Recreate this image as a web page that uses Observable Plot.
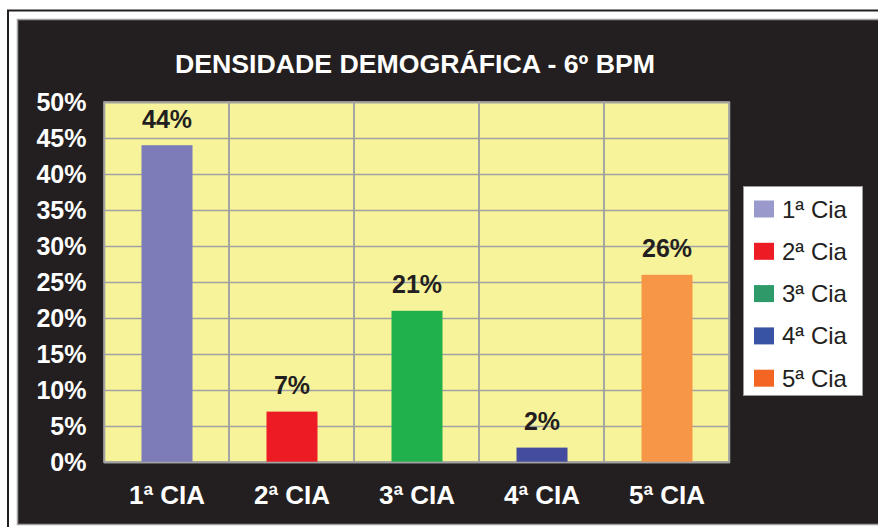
<!DOCTYPE html>
<html>
<head>
<meta charset="utf-8">
<script src="https://cdn.jsdelivr.net/npm/d3@7"></script>
<script src="https://cdn.jsdelivr.net/npm/@observablehq/plot@0.6"></script>
<style>
  html, body { margin: 0; padding: 0; background: #ffffff; }
  #chart svg { display: block; }
</style>
</head>
<body>
<div id="chart"></div>
<script>
const title = "DENSIDADE DEMOGRÁFICA - 6º BPM";
const categories = ["1ª CIA", "2ª CIA", "3ª CIA", "4ª CIA", "5ª CIA"];
const values = [0.44, 0.07, 0.21, 0.02, 0.26];
const barColors = ["#7e7bb9", "#ed1c24", "#21b14c", "#444c9f", "#f79646"];
const legendLabels = ["1ª Cia", "2ª Cia", "3ª Cia", "4ª Cia", "5ª Cia"];
const legendColors = ["#9999cc", "#ed1c24", "#2e9a6a", "#3953a4", "#f26522"];
const yTicks = [0, 0.05, 0.10, 0.15, 0.20, 0.25, 0.30, 0.35, 0.40, 0.45, 0.50];

const data = categories.map((c, i) => ({cat: c, value: values[i], color: barColors[i]}));
const fmt = d3.format(".0%");
const font = "'Liberation Sans', Arial, sans-serif";

const chart = Plot.plot({
  width: 878,
  height: 527,
  marginLeft: 104,
  marginRight: 149,
  marginTop: 102,
  marginBottom: 65,
  style: {fontFamily: font, background: "transparent", overflow: "visible"},
  x: {domain: categories, padding: 0, label: null},
  y: {domain: [0, 0.5], label: null},
  marks: [
    Plot.frame({fill: "#f7f39b", stroke: "none"}),
    Plot.ruleY(yTicks, {stroke: "#a2a2a2", strokeWidth: 1.6}),
    Plot.barY(categories, {x: d => d, y1: 0, y2: 0.5, fill: "none", stroke: "#a2a2a2", strokeWidth: 1.6}),
    Plot.barY(data, {x: "cat", y: "value", fill: "color", insetLeft: 37.5, insetRight: 36.5}),
    Plot.frame({stroke: "#a2a2a2", strokeWidth: 1.6}),
    Plot.text(data, {x: "cat", y: "value", text: d => fmt(d.value), dy: -18, lineAnchor: "bottom",
      fontSize: 25, fontWeight: "bold", fill: "#231f20"}),
    Plot.axisY(yTicks, {tickSize: 0, tickPadding: 18, tickFormat: fmt, fontSize: 25, fontWeight: "bold",
      fill: "#ffffff", label: null}),
    Plot.axisX({tickSize: 0, tickPadding: 23, fontSize: 26, fontWeight: "bold", fill: "#ffffff", label: null})
  ]
});

const svg = d3.select(chart);
// Background decorations inserted behind the plot
const bg = svg.insert("g", ":first-child");
bg.append("rect").attr("x", 8).attr("y", 10.5).attr("width", 900).attr("height", 540)
  .attr("fill", "#ffffff").attr("stroke", "#231f20").attr("stroke-width", 2);
bg.append("rect").attr("x", 17.5).attr("y", 19.5).attr("width", 880).attr("height", 505)
  .attr("fill", "#231f20").attr("stroke", "#a0a0a0").attr("stroke-width", 1.5);

// Title
svg.append("text")
  .attr("x", 415).attr("y", 73)
  .attr("text-anchor", "middle")
  .attr("font-family", font).attr("font-size", 25).attr("font-weight", "bold")
  .attr("fill", "#ffffff")
  .attr("textLength", 480).attr("lengthAdjust", "spacingAndGlyphs")
  .text(title);

// Legend
const lg = svg.append("g");
lg.append("rect").attr("x", 743.5).attr("y", 186.5).attr("width", 119).attr("height", 209)
  .attr("fill", "#ffffff").attr("stroke", "#9a9a9a").attr("stroke-width", 1);
legendLabels.forEach((lab, i) => {
  const cy = 209 + i * 42.3;
  lg.append("rect").attr("x", 754).attr("y", cy - 8.5).attr("width", 20).attr("height", 17)
    .attr("fill", legendColors[i]);
  lg.append("text").attr("x", 782).attr("y", cy + 8.5)
    .attr("text-anchor", "start")
    .attr("font-family", font).attr("font-size", 24).attr("fill", "#231f20")
    .text(lab);
});

document.getElementById("chart").appendChild(chart);
</script>
</body>
</html>
